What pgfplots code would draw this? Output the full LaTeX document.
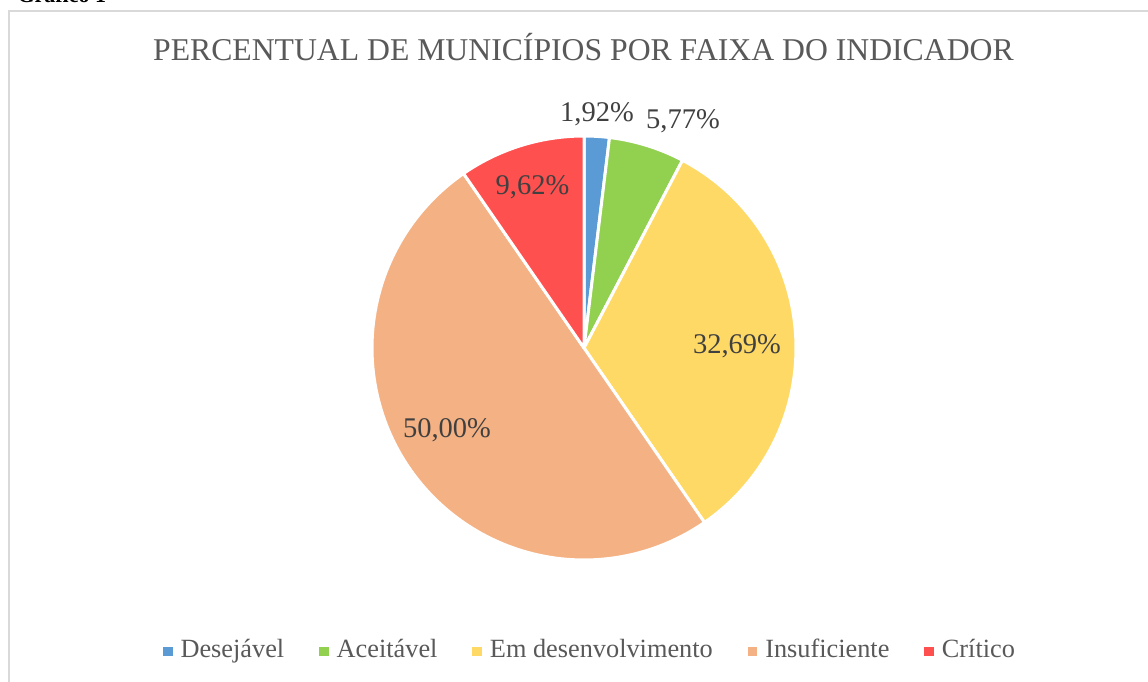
\documentclass[border=0pt]{standalone}
\usepackage{fontspec}
\setmainfont{Liberation Serif}
\usepackage{pgfplots}
\pgfplotsset{compat=1.18}
\definecolor{cDes}{HTML}{5B9BD5}
\definecolor{cAce}{HTML}{92D050}
\definecolor{cEm}{HTML}{FFD966}
\definecolor{cIns}{HTML}{F4B183}
\definecolor{cCri}{HTML}{FF5050}
\definecolor{titlegray}{HTML}{595959}
\definecolor{labgray}{HTML}{404040}
\definecolor{framegray}{HTML}{D9D9D9}
% percentages of the slices (clockwise from 12 o'clock)
\def\pDes{1.92}\def\pAce{5.77}\def\pEm{32.69}\def\pIns{50.00}\def\pCri{9.62}
\pgfmathsetmacro{\aA}{90}
\pgfmathsetmacro{\aB}{\aA-3.6*\pDes}
\pgfmathsetmacro{\aC}{\aB-3.6*\pAce}
\pgfmathsetmacro{\aD}{\aC-3.6*\pEm}
\pgfmathsetmacro{\aE}{\aD-3.6*\pIns}
\pgfmathsetmacro{\aF}{\aE-3.6*\pCri}
\begin{document}
\begin{tikzpicture}
\useasboundingbox (0,0) rectangle (1148pt,682pt);
\clip (0,0) rectangle (1148pt,682pt);
\fill[white] (0,0) rectangle (1148pt,682pt);
\draw[framegray, line width=1.5pt] (9pt,-10pt) -- (9pt,671pt) -- (1160pt,671pt);
\node[anchor=base west, font=\bfseries\fontsize{22}{24}\selectfont] at (14pt,679pt) {Gráfico 1};
\begin{axis}[
  at={(0,0)}, anchor=origin,
  scale only axis, width=1148pt, height=682pt,
  xmin=0, xmax=1148, ymin=0, ymax=682,
  hide axis, clip=false,
  legend columns=5,
  legend style={at={(589/1148,30.5/682)}, anchor=center, draw=none, fill=none,
     font=\fontsize{26.3}{28}\selectfont, text=titlegray,
     nodes={inner sep=0pt, text height=18pt, text depth=6pt},
     /tikz/every even column/.append style={column sep=35pt},
     /tikz/every odd column/.append style={column sep=8pt}},
  legend image code/.code={\fill[#1, draw=none] (0pt,-4.7pt) rectangle (9.5pt,4.7pt);},
]
\addplot[fill=cDes, draw=white, line width=3pt, line join=round, samples=10, domain=\aB:\aA]
  ({584+212*cos(x)},{334+212*sin(x)}) -- (584,334) -- cycle;
\addlegendentry{Desejável}
\addplot[fill=cAce, draw=white, line width=3pt, line join=round, samples=20, domain=\aC:\aB]
  ({584+212*cos(x)},{334+212*sin(x)}) -- (584,334) -- cycle;
\addlegendentry{Aceitável}
\addplot[fill=cEm, draw=white, line width=3pt, line join=round, samples=80, domain=\aD:\aC]
  ({584+212*cos(x)},{334+212*sin(x)}) -- (584,334) -- cycle;
\addlegendentry{Em desenvolvimento}
\addplot[fill=cIns, draw=white, line width=3pt, line join=round, samples=120, domain=\aE:\aD]
  ({584+212*cos(x)},{334+212*sin(x)}) -- (584,334) -- cycle;
\addlegendentry{Insuficiente}
\addplot[fill=cCri, draw=white, line width=3pt, line join=round, samples=30, domain=\aF:\aE]
  ({584+212*cos(x)},{334+212*sin(x)}) -- (584,334) -- cycle;
\addlegendentry{Crítico}
\begin{scope}[every node/.style={anchor=base, text=labgray, font=\fontsize{28.5}{30}\selectfont, inner sep=0pt}]
\node at (axis cs:597,560.5) {1,92\%};
\node at (axis cs:683,553.7) {5,77\%};
\node at (axis cs:532.5,487) {9,62\%};
\node at (axis cs:737,328.7) {32,69\%};
\node at (axis cs:447,244) {50,00\%};
\end{scope}
\node[anchor=base, text=titlegray, font=\fontsize{31.7}{34}\selectfont, inner sep=0pt] at (axis cs:583.5,621.3) {PERCENTUAL DE MUNICÍPIOS POR FAIXA DO INDICADOR};
\end{axis}
\end{tikzpicture}
\end{document}
